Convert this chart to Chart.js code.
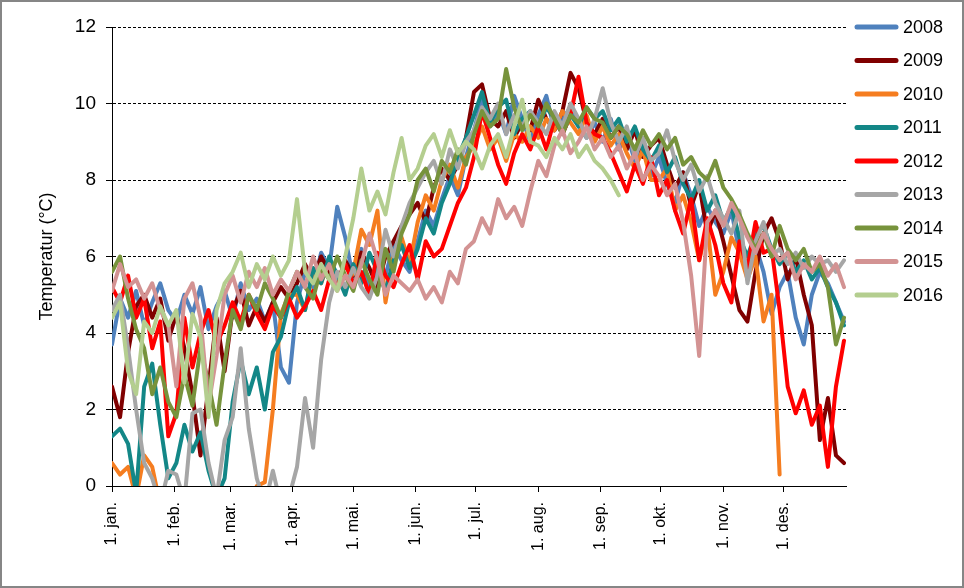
<!DOCTYPE html>
<html>
<head>
<meta charset="utf-8">
<script src="https://cdn.jsdelivr.net/npm/chart.js@4.4.0/dist/chart.umd.min.js"></script>
<style>
body { margin: 0; background: #fff; }
#wrap { width: 960px; height: 584px; border: 2px solid #868686; position: relative; background: #fff; }
</style>
</head>
<body>
<div id="wrap"><canvas id="myChart"></canvas></div>
<script>
// one value every 4 days, starting 1. jan (day 0)
var STEP = 4;

var years = ['2008', '2009', '2010', '2011', '2012', '2013', '2014', '2015', '2016'];
var colors = ['#4F81BD', '#800000', '#F57D20', '#138787', '#FF0000', '#A6A6A6', '#77933C', '#D39393', '#B4CE8F'];

// month start (day of year) and tick labels
var monthDays = [0, 31, 59, 90, 120, 151, 181, 212, 243, 273, 304, 334];
var monthLabels = ['1. jan.', '1. feb.', '1. mar.', '1. apr.', '1. mai.', '1. jun.', '1. jul.', '1. aug.', '1. sep.', '1. okt.', '1. nov.', '1. des.'];

var y2008 = [3.7, 4.9, 4.4, 5.1, 4.2, 4.8, 5.3, 4.6,
    4.3, 5.0, 4.5, 5.2, 4.1, 4.7, 5.1,
    4.4, 5.3, 4.6, 4.9, 4.3, 4.8, 3.1, 2.7,
    4.8, 5.6, 5.2, 6.1, 5.7, 7.3, 6.5,
    5.4, 6.2, 5.1, 5.8, 5.5, 6.3, 5.9, 5.6,
    6.4, 7.2, 6.8, 7.5, 8.1, 7.6, 8.6,
    9.3, 10.1, 9.4, 9.8, 9.2, 10.2, 9.6, 9.0,
    9.7, 10.2, 9.3, 9.6, 9.9, 9.4, 9.1, 9.5,
    9.0, 9.6, 8.8, 9.2, 8.5, 8.9, 8.1,
    8.6, 7.9, 7.4, 8.2, 7.6, 6.8, 7.3, 6.9,
    6.6, 7.2, 6.1, 5.8, 6.3, 5.6, 4.5,
    5.2, 5.6, 4.4, 3.7, 5.0, 5.6, 5.3, 4.8, 4.3];

var y2009 = [2.6, 1.8, 3.5, 4.7, 5.0, 4.4, 4.9, 3.8,
    4.5, 3.6, 2.4, 0.8, 2.6, 4.4, 3.0,
    4.6, 5.1, 4.2, 4.7, 4.3, 4.8, 5.2, 4.9,
    5.3, 5.8, 5.4, 6.0, 5.6, 5.3, 5.9,
    5.5, 6.1, 5.7, 5.2, 6.0, 6.4, 6.8, 7.1,
    7.4, 6.9, 7.8, 8.3, 8.0, 8.4, 9.1,
    10.3, 10.5, 9.6, 9.4, 9.8, 9.1, 9.5, 9.3,
    10.1, 9.6, 9.3, 9.8, 10.8, 10.4, 9.5, 9.2,
    9.6, 9.1, 9.4, 8.8, 9.3, 8.6, 8.9,
    9.1, 8.4, 7.8, 8.2, 7.3, 7.9, 6.6, 7.2,
    6.4, 5.5, 4.6, 4.3, 5.6, 6.6, 7.0,
    6.4, 5.4, 6.0, 5.0, 4.2, 1.2, 2.3, 0.8, 0.6];

var y2010 = [0.6, 0.3, 0.5, -0.3, 0.8, 0.5, -0.5, -1,
    -1, -1, -1, -1, -1, -1, -1,
    -1, -1, -1, 0.0, 0.1, 2.0, 4.5, 5.0,
    5.0, 4.6, 5.6, 5.3, 5.9, 5.5, 5.1,
    5.6, 6.7, 6.3, 7.2, 4.8, 6.0, 6.5, 5.8,
    6.9, 7.6, 7.2, 8.0, 8.4, 7.8, 8.6,
    8.9, 9.4, 8.8, 9.1, 8.5, 9.2, 9.0, 9.4,
    9.1, 9.6, 9.3, 9.8, 9.5, 9.2, 9.7, 9.0,
    9.4, 8.9, 9.2, 8.7, 8.3, 8.8, 8.0,
    8.0, 8.3, 7.2, 7.6, 6.9, 5.9, 6.8, 5.0,
    5.6, 6.5, 6.1, 5.4, 6.0, 4.3, 5.0,
    0.3, null, null, null, null, null, null, null, null];

var y2011 = [1.3, 1.5, 1.1, -0.2, 2.6, 3.2, 1.6, 0.2,
    0.6, 1.6, 0.9, 1.4, 0.4, -0.3, 0.2,
    2.2, 3.3, 2.4, 3.1, 2.0, 3.5, 3.9, 4.8,
    5.2, 4.6, 5.7, 5.3, 6.0, 5.5, 5.0,
    5.8, 5.3, 6.1, 5.6, 5.1, 5.9, 6.3, 5.7,
    6.2, 7.0, 6.6, 7.4, 7.9, 8.6, 9.1,
    9.7, 10.3, 9.5, 9.9, 10.1, 9.2, 9.6, 9.8,
    9.4, 9.9, 9.6, 9.2, 9.7, 9.4, 9.9, 9.6,
    9.8, 9.3, 9.6, 9.0, 9.4, 8.8, 8.5,
    8.9, 8.2, 8.6, 7.9, 7.5, 8.0, 7.2, 7.6,
    6.9, 7.3, 6.5, 6.0, 6.6, 6.8, 6.2,
    5.8, 6.1, 5.6, 5.9, 5.4, 5.7, 5.2, 4.8, 4.2];

var y2012 = [5.2, 4.8, 5.5, 4.4, 4.9, 3.6, 4.3, 1.3,
    1.9, 4.4, 3.1, 4.0, 4.6, 3.7, 4.2,
    4.8, 4.3, 5.0, 4.5, 4.1, 4.7, 4.4, 4.9,
    4.4, 4.7, 5.1, 4.6, 5.4, 5.2, 5.8,
    5.3, 5.6, 5.0, 6.1, 5.5, 5.2, 5.8, 6.3,
    5.4, 6.4, 6.0, 6.2, 6.8, 7.4, 7.8,
    8.6, 9.8, 9.1, 8.4, 7.9, 8.7, 9.2, 8.8,
    9.4, 8.8, 9.6, 9.2, 9.7, 10.7, 9.5, 9.2,
    9.1, 8.7, 8.2, 7.7, 8.4, 7.9, 8.6,
    7.6, 8.0, 7.2, 6.6, 7.5, 5.9, 7.0, 6.3,
    5.3, 4.8, 6.4, 5.7, 6.9, 6.1, 6.2,
    4.6, 2.6, 1.9, 2.5, 1.6, 2.1, 0.5, 2.6, 3.8];

var y2013 = [4.6, 5.0, 3.6, 2.0, 0.6, 0.2, -0.5, 0.4,
    0.3, -0.4, 1.9, 2.0, 0.6, -0.3, 1.2,
    1.8, 3.6, 1.5, 0.2, -0.5, 0.4, -0.5, -0.3,
    0.5, 2.3, 1.0, 3.3, 4.8, 5.6, 5.2,
    5.7, 5.2, 4.9, 5.5, 6.7, 6.0, 6.8, 7.4,
    7.8, 8.2, 8.5, 7.9, 8.8, 8.3, 9.0,
    9.3, 9.9, 9.6, 10.0, 9.2, 9.7, 9.4, 9.8,
    9.5, 9.2, 9.8, 9.4, 10.0, 9.6, 9.1, 9.6,
    10.4, 9.5, 9.0, 9.4, 8.6, 9.1, 8.5,
    8.7, 9.3, 8.5, 8.0, 8.4, 7.7, 8.1, 7.4,
    7.0, 6.6, 7.2, 5.3, 6.4, 6.9, 6.0,
    6.2, 5.8, 6.1, 5.7, 6.0, 5.8, 5.9, 5.6, 5.9];

var y2014 = [5.6, 6.0, 4.9, 4.1, 3.6, 2.4, 3.1, 2.2,
    1.8, 2.9, 2.1, 3.6, 2.7, 1.6, 3.2,
    4.6, 4.1, 5.0, 4.6, 5.3, 4.9, 4.4, 5.1,
    5.6, 5.2, 4.9, 5.7, 5.4, 6.0, 5.5,
    5.1, 5.9, 5.4, 5.0, 6.2, 5.6, 6.6, 7.1,
    8.0, 8.3, 7.7, 8.5, 8.2, 8.8, 8.4,
    9.2, 9.8, 9.4, 9.6, 10.9, 9.9, 9.3, 9.7,
    9.4, 10.0, 9.6, 9.2, 9.7, 9.5, 9.9, 9.6,
    9.5, 9.1, 9.4, 9.2, 8.8, 9.3, 8.9,
    9.2, 8.8, 9.1, 8.4, 8.6, 8.2, 8.0, 8.5,
    7.8, 7.5, 7.1, 6.6, 6.2, 6.6, 6.0,
    6.8, 6.2, 5.9, 6.2, 5.6, 5.8, 5.2, 3.7, 4.4];

var y2015 = [5.1, 5.8, 5.2, 5.4, 4.9, 5.3, 4.6, 4.2,
    2.6, 4.9, 5.3, 4.4, 2.1, 3.4, 5.0,
    5.5, 4.8, 5.6, 5.2, 5.7, 5.0, 5.4, 5.1,
    5.6, 5.2, 6.0, 5.4, 5.8, 5.1, 5.5,
    5.2, 5.8, 6.6, 5.9, 5.0, 5.5, 5.3, 5.1,
    5.4, 4.9, 5.2, 4.8, 5.6, 5.3, 6.2,
    6.4, 7.0, 6.6, 7.5, 7.0, 7.3, 6.8, 7.7,
    8.5, 8.1, 8.9, 9.3, 8.7, 9.0, 9.4, 8.8,
    9.1, 8.6, 8.9, 8.3, 8.7, 8.0, 8.4,
    8.1, 7.6, 7.9, 6.9, 5.5, 3.4, 6.9, 7.2,
    6.8, 7.4, 7.0, 6.5, 6.1, 6.6, 6.2,
    5.9, 6.1, 5.4, 5.8, 5.6, 6.0, 5.5, 5.8, 5.2];

var y2016 = [4.4, 4.8, 3.0, 2.4, 4.3, 4.0, 4.7, 4.2,
    4.6, 2.7, 4.5, 3.9, 1.8, 4.6, 5.3,
    5.6, 6.1, 5.2, 5.8, 5.4, 6.0, 5.5, 5.9,
    7.5, 5.6, 5.3, 5.8, 5.4, 5.1, 6.0,
    7.0, 8.3, 7.2, 7.7, 7.1, 8.2, 9.1, 8.0,
    8.3, 8.9, 9.2, 8.6, 9.3, 8.7, 9.0,
    8.8, 8.3, 8.9, 9.2, 8.6, 9.4, 10.1, 9.0,
    8.9, 8.6, 9.1, 8.8, 9.2, 8.6, 8.9, 8.5,
    8.3, 8.0, 7.6];

var series = [y2008, y2009, y2010, y2011, y2012, y2013, y2014, y2015, y2016];

function toPoints(vals) {
    return vals.map(function (v, i) { return { x: i * STEP, y: v }; });
}

var FONT = '"Liberation Sans", Arial, sans-serif';
Chart.defaults.font.family = FONT;
Chart.defaults.color = '#000';

// legend drawn at the right, like the original
var sideLegend = {
    id: 'sideLegend',
    afterDraw: function (chart) {
        var c = chart.ctx;
        var x0 = chart.chartArea.right + 11;
        c.save();
        c.font = '18px ' + FONT;
        c.textBaseline = 'middle';
        c.lineCap = 'round';
        years.forEach(function (name, i) {
            var y = chart.chartArea.top + i * 33.5;
            c.strokeStyle = colors[i];
            c.lineWidth = 5;
            c.beginPath();
            c.moveTo(x0, y);
            c.lineTo(x0 + 39, y);
            c.stroke();
            c.fillStyle = '#000';
            c.fillText(name, x0 + 46, y + 1);
        });
        c.restore();
    }
};

var ctx = document.getElementById('myChart');
var chart = new Chart(ctx, {
    type: 'line',
    data: {
        datasets: years.map(function (name, i) {
            return {
                label: name,
                data: toPoints(series[i]),
                borderColor: colors[i],
                backgroundColor: colors[i],
                borderWidth: 4,
                pointRadius: 0,
                tension: 0,
                borderJoinStyle: 'round',
                borderCapStyle: 'round',
                spanGaps: false,
                order: years.length - i
            };
        })
    },
    options: {
        responsive: true,
        maintainAspectRatio: false,
        animation: false,
        layout: { padding: { left: 0, top: 25, right: 116, bottom: 0 } },
        plugins: {
            legend: { display: false },
            tooltip: { enabled: false }
        },
        scales: {
            x: {
                type: 'linear',
                min: 0,
                max: 365,
                afterBuildTicks: function (scale) {
                    scale.ticks = monthDays.map(function (d) { return { value: d }; });
                },
                afterFit: function (scale) { scale.height = 100; },
                ticks: {
                    autoSkip: false,
                    maxRotation: 90,
                    minRotation: 90,
                    padding: 10,
                    font: { size: 16 },
                    callback: function (value, index) { return monthLabels[index]; }
                },
                grid: {
                    drawOnChartArea: false,
                    drawTicks: true,
                    tickLength: 6,
                    tickColor: '#000'
                },
                border: { display: true, color: '#000', width: 1 }
            },
            y: {
                min: 0,
                max: 12,
                afterFit: function (scale) { scale.width = 110; },
                ticks: { stepSize: 2, padding: 10, font: { size: 19 } },
                grid: {
                    color: '#000',
                    lineWidth: 1,
                    tickLength: 6,
                    tickColor: '#000',
                    tickBorderDash: [1, 0]
                },
                border: { display: true, color: '#000', width: 1, dash: [3, 2] },
                title: {
                    display: true,
                    text: 'Temperatur (°C)',
                    font: { size: 18 },
                    padding: { top: 34, bottom: 0 }
                }
            }
        }
    },
    plugins: [sideLegend]
});
</script>
</body>
</html>
